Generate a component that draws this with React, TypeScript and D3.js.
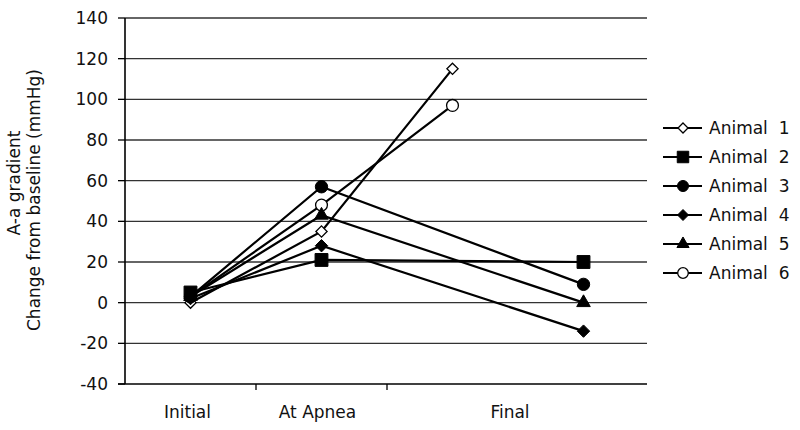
import React from "react";
import * as d3 from "d3";

const slots = ["initial", "apnea", "final1", "final2"];
const xTickLabels = ["Initial", "At Apnea", "Final"];
const yTicks = [-40, -20, 0, 20, 40, 60, 80, 100, 120, 140];

const seriesNames = ["Animal  1", "Animal  2", "Animal  3", "Animal  4", "Animal  5", "Animal  6"];
const animal1 = [0, 35, 115, null];
const animal2 = [5, 21, null, 20];
const animal3 = [3, 57, null, 9];
const animal4 = [2, 28, null, -14];
const animal5 = [3, 43, null, 0];
const animal6 = [3, 48, 97, null];
const seriesValues = [animal1, animal2, animal3, animal4, animal5, animal6];

const markerTypes = ["diamondOpen", "square", "circle", "diamond", "triangle", "circleOpen"];

const W = 800, H = 430;
const left = 125, right = 649, top = 18, bottom = 384;
const FONT = "'DejaVu Sans', Verdana, sans-serif";

const diamondPath = (r: number) => `M0,${-r}L${r},0L0,${r}L${-r},0Z`;

function symbolPath(type: string, legend = false) {
  const k = legend ? 0.8 : 1;
  switch (type) {
    case "square": return d3.symbol(d3.symbolSquare, 165 * k)()!;
    case "circle": return d3.symbol(d3.symbolCircle, 120 * k)()!;
    case "circleOpen": return d3.symbol(d3.symbolCircle, 110 * k)()!;
    case "triangle": return d3.symbol(d3.symbolTriangle, 80 * k)()!;
    case "diamond": return diamondPath(legend ? 5.5 : 6.2);
    default: return diamondPath(legend ? 5 : 5.6);
  }
}

function Marker({ type, x, y, legend = false }: { type: string; x: number; y: number; legend?: boolean }) {
  const open = type === "diamondOpen" || type === "circleOpen";
  return (
    <path
      d={symbolPath(type, legend)}
      transform={`translate(${x},${y})`}
      fill={open ? "#fff" : "#000"}
      stroke="#000"
      strokeWidth={open ? 1.3 : 1}
    />
  );
}

export default function App() {
  const x = d3.scaleBand<string>().domain(slots).range([left, right]).paddingInner(0).paddingOuter(0);
  const cx = (s: string) => (x(s) as number) + x.bandwidth() / 2;
  const y = d3.scaleLinear().domain([-40, 140]).range([bottom, top]);

  // connect across missing values
  const pathFor = (vals: (number | null)[]) => {
    const pts = vals
      .map((v, i) => (v === null ? null : ([cx(slots[i]), y(v)] as [number, number])))
      .filter(Boolean) as [number, number][];
    return d3.line()(pts)!;
  };

  const tickBoundaries = [slots[1], slots[2]].map((s) => x(s) as number);
  const labelX = [cx(slots[0]) - 3, cx(slots[1]) - 4, (cx(slots[2]) + cx(slots[3])) / 2 - 8];

  const legendX = 663, legendY0 = 128, legendStep = 29;

  return (
    <svg width={W} height={H} style={{ position: "absolute", left: 0, top: 0, background: "#fff" }} fontFamily={FONT}>
      <rect width={W} height={H} fill="#fff" />
      {yTicks.filter((t) => t > -40).map((t) => (
        <line key={t} x1={left} x2={right - 2} y1={y(t)} y2={y(t)} stroke="#333" strokeWidth={1.3} />
      ))}
      <line x1={left} x2={left} y1={top} y2={bottom} stroke="#000" strokeWidth={1.6} />
      {yTicks.map((t) => (
        <g key={t}>
          <line x1={left - 7} x2={left} y1={y(t)} y2={y(t)} stroke="#000" strokeWidth={1.3} />
          <text x={108} y={y(t)} dy="0.36em" textAnchor="end" fontSize={17} fill="#111">{t}</text>
        </g>
      ))}
      <line x1={left - 7} x2={right - 2} y1={bottom} y2={bottom} stroke="#000" strokeWidth={1.6} />
      {tickBoundaries.map((b) => (
        <line key={b} x1={b} x2={b} y1={bottom} y2={bottom + 6} stroke="#000" strokeWidth={1.3} />
      ))}
      {xTickLabels.map((l, i) => (
        <text key={l} x={labelX[i]} y={418} textAnchor="middle" fontSize={17} fill="#111">{l}</text>
      ))}
      <text transform={`translate(20,183) rotate(-90)`} textAnchor="middle" fontSize={17} fill="#111">A-a gradient</text>
      <text transform={`translate(40,200) rotate(-90)`} textAnchor="middle" fontSize={17} fill="#111">Change from baseline (mmHg)</text>
      {seriesValues.map((vals, si) => (
        <path key={si} d={pathFor(vals)} fill="none" stroke="#000" strokeWidth={2.2} />
      ))}
      {[0, 5, 2, 3, 4, 1].map((si) =>
        seriesValues[si].map((v, i) =>
          v === null ? null : <Marker key={`${si}-${i}`} type={markerTypes[si]} x={cx(slots[i])} y={y(v)} />
        )
      )}
      {seriesNames.map((n, i) => {
        const ly = legendY0 + i * legendStep;
        return (
          <g key={n}>
            <line x1={legendX} x2={legendX + 39} y1={ly} y2={ly} stroke="#000" strokeWidth={2} />
            <Marker type={markerTypes[i]} x={legendX + 20} y={ly} legend />
            <text x={709} y={ly} dy="0.36em" fontSize={17} fill="#111" style={{ whiteSpace: "pre" }}>{n}</text>
          </g>
        );
      })}
    </svg>
  );
}
